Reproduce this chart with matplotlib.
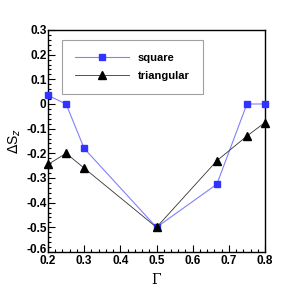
import matplotlib
matplotlib.use("Agg")
import matplotlib.pyplot as plt
import matplotlib.transforms as mtransforms
from matplotlib.ticker import MultipleLocator

gamma_sq = [0.2, 0.25, 0.3, 0.5, 0.667, 0.75, 0.8]
ds_square = [0.035, 0.0, -0.18, -0.5, -0.325, 0.0, 0.0]
gamma_tri = [0.2, 0.25, 0.3, 0.5, 0.667, 0.75, 0.8]
ds_tri = [-0.245, -0.2, -0.26, -0.5, -0.23, -0.13, -0.075]
xticks = [0.2, 0.3, 0.4, 0.5, 0.6, 0.7, 0.8]
yticks = [-0.6, -0.5, -0.4, -0.3, -0.2, -0.1, 0, 0.1, 0.2, 0.3]

plt.rcParams['font.family'] = ['Liberation Sans', 'DejaVu Sans']
fig = plt.figure(figsize=(2.91, 2.91), dpi=100)
ax = fig.add_axes([48/291, 1-252/291, 217/291, 222/291])

ax.plot(gamma_sq, ds_square, color='#8080ff', lw=0.8, marker='s', ms=4.5,
        mfc='#3333ff', mec='#3333ff', label='square', clip_on=False, zorder=3)
ax.plot(gamma_tri, ds_tri, color='#333333', lw=0.6, marker='^', ms=6,
        mfc='black', mec='black', label='triangular', clip_on=False, zorder=3)

ax.set_xlim(0.2, 0.8)
ax.set_ylim(-0.6, 0.3)
ax.set_xticks(xticks)
ax.set_yticks(yticks)
ax.set_xticklabels(['0.2', '0.3', '0.4', '0.5', '0.6', '0.7', '0.8'])
ax.set_yticklabels(['-0.6', '-0.5', '-0.4', '-0.3', '-0.2', '-0.1', '0', '0.1', '0.2', '0.3'])
ax.xaxis.set_minor_locator(MultipleLocator(0.02))
ax.yaxis.set_minor_locator(MultipleLocator(0.02))
ax.tick_params(which='both', direction='in', top=False, right=False,
               labelsize=8.5, width=0.8)
ax.tick_params(which='major', length=5, pad=1)
ax.tick_params(axis='x', which='major', pad=2.5)
ax.tick_params(which='minor', length=2.5)
for lab in ax.get_xticklabels() + ax.get_yticklabels():
    lab.set_fontweight('bold')
ylabs = ax.get_yticklabels()
ylabs[0].set_transform(ylabs[0].get_transform() +
                       mtransforms.ScaledTranslation(0, 2.5/72, fig.dpi_scale_trans))
for s in ax.spines.values():
    s.set_linewidth(1.0)

ax.set_xlabel('Γ', family='DejaVu Serif', fontsize=10, labelpad=4)
ax.set_ylabel(r'$\Delta$S$_z$', fontsize=10, labelpad=2)

leg = ax.legend(loc='upper left', bbox_to_anchor=(14/217, 1-10/222), frameon=True,
                fancybox=False, edgecolor='#888888',
                prop={'weight': 'bold', 'size': 8}, handlelength=4.8,
                borderpad=1.2, labelspacing=0.7, borderaxespad=0)
leg.get_frame().set_linewidth(0.8)

fig.savefig('out.png', dpi=100)
